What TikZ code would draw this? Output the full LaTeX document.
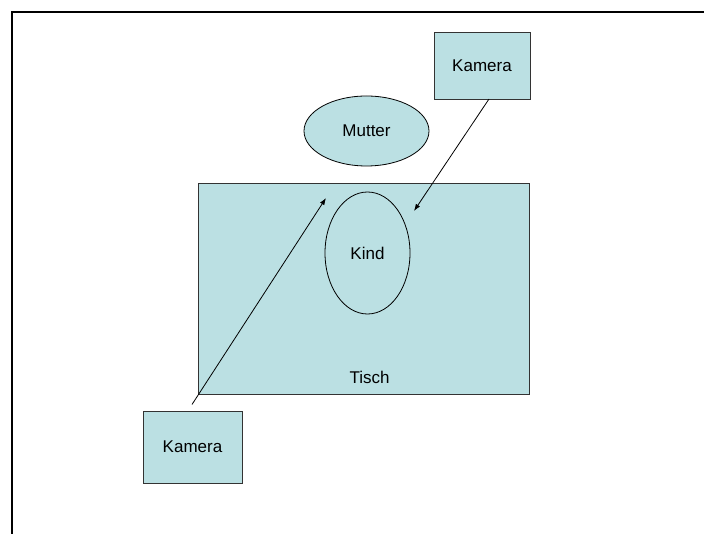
\documentclass[tikz,border=0pt]{standalone}
\usepackage{fontspec}
\setmainfont{Liberation Sans}
\usetikzlibrary{shapes.geometric,arrows.meta}
\definecolor{boxfill}{HTML}{BBE0E3}
\definecolor{boxline}{HTML}{333333}
\tikzset{
  box/.style={draw=boxline, line width=0.9pt, fill=boxfill, rectangle, inner sep=0pt},
  oval/.style={draw=black, line width=0.8pt, fill=boxfill, ellipse, inner sep=0pt},
  lbl/.style={font=\fontsize{17}{19}\selectfont, inner sep=0pt},
  ray/.style={draw=black, line width=0.8pt, -{Latex[length=7pt,width=5pt]}},
}
\begin{document}
\begin{tikzpicture}[x=1pt,y=-1pt]
  \useasboundingbox (0,0) rectangle (704,534);
  % outer frame (top and left edges)
  \draw[line width=2pt] (704,12) -- (12,12) -- (12,534);

  % table and people
  \node[box, minimum width=331pt, minimum height=211pt] (tisch) at (363.5,288.5) {};
  \node[lbl] (tischlbl) at (369.5,377) {Tisch};
  \node[oval, minimum width=125pt, minimum height=70pt, lbl] (mutter) at (366.5,131) {Mutter};
  \node[oval, minimum width=85pt, minimum height=122pt, lbl] (kind) at (367.5,253) {Kind};

  % cameras
  \node[box, minimum width=96pt, minimum height=67pt, lbl] (kamO) at (482,65.5) {Kamera};
  \node[box, minimum width=99pt, minimum height=72pt, lbl] (kamU) at (192.5,447) {Kamera};

  % viewing directions
  \coordinate (startU) at (192,404.5);
  \coordinate (zielU) at (326,198);
  \coordinate (startO) at (489,99);
  \coordinate (zielO) at (414,211);
  \draw[ray] (startU) -- (zielU);
  \draw[ray] (startO) -- (zielO);
\end{tikzpicture}
\end{document}
